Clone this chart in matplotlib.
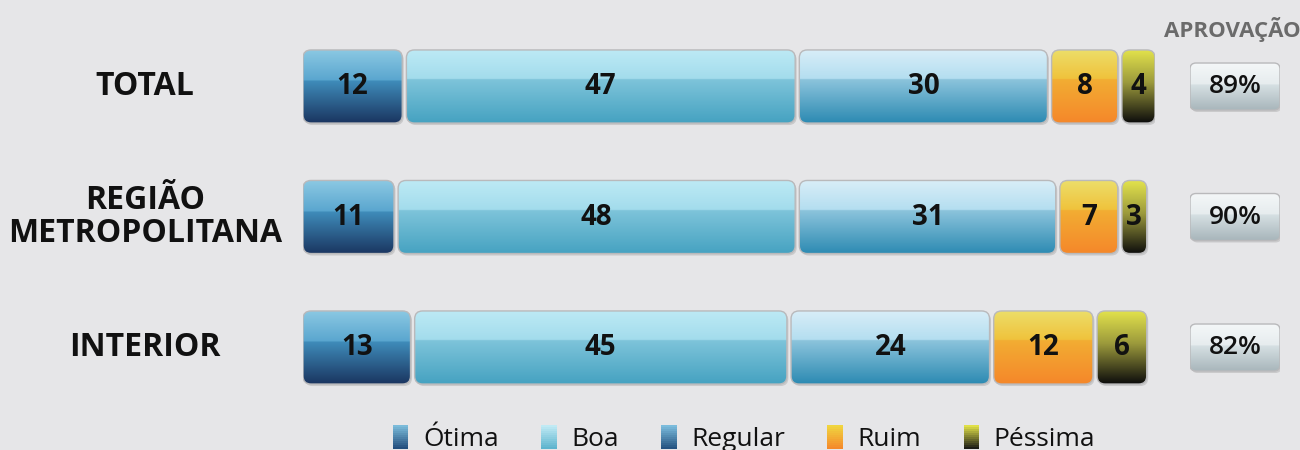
import numpy as np
import matplotlib
matplotlib.use("Agg")
import matplotlib.pyplot as plt
from matplotlib.patches import FancyBboxPatch, Rectangle
from matplotlib.colors import LinearSegmentedColormap
from matplotlib.legend_handler import HandlerBase
import matplotlib.transforms as mtransforms

plt.rcParams['font.family'] = ['Open Sans', 'DejaVu Sans']

# ---------------- data ----------------
categories = ["TOTAL", "REGIÃO\nMETROPOLITANA", "INTERIOR"]
series_names = ["Ótima", "Boa", "Regular", "Ruim", "Péssima"]
otima = [12, 11, 13]
boa = [47, 48, 45]
regular = [30, 31, 24]
ruim = [8, 7, 12]
pessima = [4, 3, 6]
aprovacao = [89, 90, 82]

series_values = [otima, boa, regular, ruim, pessima]

# ---------------- styles ----------------
BG = "#e6e6e8"
gradients = [
    [(0.0, "#8cc9e3"), (0.42, "#5aa6cf"), (0.43, "#3f8cba"), (1.0, "#1a3560")],   # Ótima
    [(0.0, "#bdeaf5"), (0.40, "#a3dcec"), (0.41, "#7ec4da"), (1.0, "#45a2c1")],   # Boa
    [(0.0, "#d9eef8"), (0.40, "#b4def0"), (0.41, "#8cc4dc"), (1.0, "#2c8ab2")],   # Regular
    [(0.0, "#ecdf6a"), (0.40, "#f0c23c"), (0.41, "#f2ad33"), (1.0, "#f5872a")],   # Ruim
    [(0.0, "#e4e44c"), (0.45, "#9c9a3c"), (1.0, "#0c0c0c")],                      # Péssima
]
legend_grads = [
    [(0.0, "#7fc0de"), (1.0, "#1f4a7a")],
    [(0.0, "#c4ecf6"), (1.0, "#5ab2cc")],
    [(0.0, "#7fc0e0"), (1.0, "#22507e")],
    [(0.0, "#f0d840"), (1.0, "#f5872a")],
    [(0.0, "#e8e84a"), (1.0, "#151515")],
]
approval_grad = [(0.0, "#f4f7f8"), (0.45, "#e6ecee"), (0.46, "#d6e0e3"), (1.0, "#a8b6bb")]

FIG_W, FIG_H = 1300, 450
fig = plt.figure(figsize=(FIG_W / 100, FIG_H / 100), dpi=100, facecolor=BG)

row_px = 130.5
row0_px = 86.5
ylim = ((FIG_H - row0_px) / row_px, -row0_px / row_px)

gap = 0.5
bar_h = 0.56
x_max = max(sum(v[i] for v in series_values) for i in range(len(categories))) + gap * (len(series_values) - 1)

ax_left_px, ax_w_px = 303, 852
ax = fig.add_axes([ax_left_px / FIG_W, 0, ax_w_px / FIG_W, 1])
ax.set_facecolor("none")
ax.set_xlim(0, x_max)
ax.set_ylim(*ylim)
ax.axis("off")

px_per_x = ax_w_px / x_max
px_per_y = row_px
mut_asp = px_per_x / px_per_y
rad_x = 8 / px_per_x


def grad_array(stops, n=256):
    cmap = LinearSegmentedColormap.from_list("g", stops)
    return cmap(np.linspace(0, 1, n))[:, None, :]


def gradient_box(a, x0, y0, w, h, stops, r, masp):
    sh = FancyBboxPatch((x0, y0), w, h,
                        boxstyle=f"round,pad=0,rounding_size={r}",
                        mutation_aspect=masp, facecolor="#000000", alpha=0.12,
                        edgecolor="none", zorder=1,
                        transform=a.transData + mtransforms.ScaledTranslation(1.5 / 100, -2 / 100, fig.dpi_scale_trans))
    a.add_patch(sh)
    p = FancyBboxPatch((x0, y0), w, h, boxstyle=f"round,pad=0,rounding_size={r}",
                       mutation_aspect=masp, facecolor="none", edgecolor="#b9b9bb",
                       linewidth=1.0, zorder=3)
    a.add_patch(p)
    im = a.imshow(grad_array(stops), extent=(x0, x0 + w, y0 + h, y0), origin="upper",
                  aspect="auto", zorder=2, interpolation="bilinear")
    im.set_clip_path(p)


for i, cat in enumerate(categories):
    left = 0.0
    for s, vals in enumerate(series_values):
        v = vals[i]
        gradient_box(ax, left, i - bar_h / 2, v, bar_h, gradients[s], rad_x, mut_asp)
        ax.text(left + v / 2, i, f"{v}", ha="center", va="center", fontsize=20,
                fontweight="bold", color="#111111", zorder=5)
        left += v + gap

# row labels
trans_lab = mtransforms.blended_transform_factory(fig.transFigure, ax.transData)
for i, cat in enumerate(categories):
    ax.text(145 / FIG_W, i, cat, transform=trans_lab, ha="center", va="center",
            fontsize=23, fontweight="bold", color="#111111", linespacing=1.0)

# approval column
ap_left_px, ap_w_px = 1190, 90
ax2 = fig.add_axes([ap_left_px / FIG_W, 0, ap_w_px / FIG_W, 1])
ax2.set_facecolor("none")
ax2.set_xlim(0, 1)
ax2.set_ylim(*ylim)
ax2.axis("off")
ap_h = 0.36
ap_masp = ap_w_px / row_px
for i, val in enumerate(aprovacao):
    gradient_box(ax2, 0, i - ap_h / 2, 1, ap_h, approval_grad, 6 / ap_w_px, ap_masp)
    ax2.text(0.5, i, f"{val}%", ha="center", va="center", fontsize=19,
             fontweight="semibold", color="#111111", zorder=5)

fig.text(1232 / FIG_W, 1 - 30 / FIG_H, "APROVAÇÃO", ha="center", va="center",
         fontsize=16, fontweight="bold", color="#6b6b6b")


# legend with gradient squares
class GradHandle:
    def __init__(self, stops):
        self.stops = stops


class HandlerGrad(HandlerBase):
    def create_artists(self, legend, orig_handle, xdescent, ydescent, width, height, fontsize, trans):
        n = 12
        cmap = LinearSegmentedColormap.from_list("lg", orig_handle.stops)
        arts = []
        for k in range(n):
            c = cmap((k + 0.5) / n)
            y = -ydescent + height * (1 - (k + 1) / n)
            r = Rectangle((-xdescent, y), width, height / n + 0.3, facecolor=c,
                          edgecolor="none", transform=trans)
            arts.append(r)
        return arts


handles = [GradHandle(g) for g in legend_grads]
fig.legend(handles, series_names, loc="center", bbox_to_anchor=(744 / FIG_W, 1 - 439 / FIG_H),
           ncol=5, frameon=False, fontsize=19, handlelength=0.6, handleheight=1.0,
           columnspacing=1.6, handletextpad=0.55, labelcolor="#111111",
           handler_map={GradHandle: HandlerGrad()})

fig.savefig("out.png", dpi=100, facecolor=BG)
